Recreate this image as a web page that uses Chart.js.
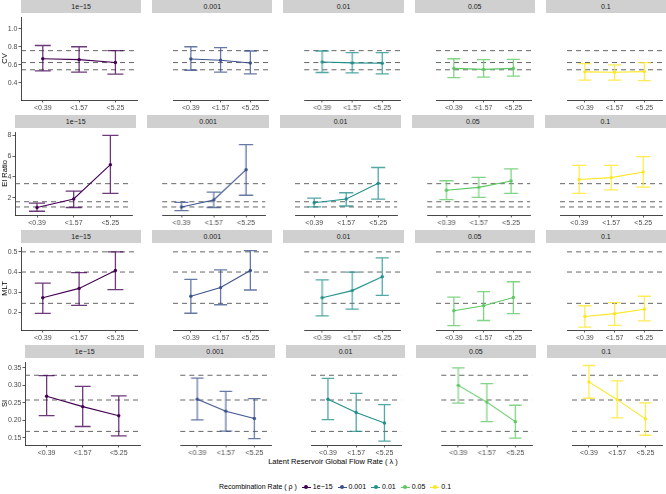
<!DOCTYPE html>
<html lang="en">
<head>
<meta charset="UTF-8">
<script src="https://cdn.jsdelivr.net/npm/chart.js"></script>
<title>Recombination rate facets</title>
<style>
  body { margin: 0; background: #fff; font-family: "Liberation Sans", Arial, sans-serif; }
  #wrap { position: relative; width: 666px; height: 494px; overflow: hidden; }
  .strip { position: absolute; background: #d0d0d0; color: #1a1a1a; font-size: 7px; text-align: center; line-height: 13px; }
  .box { position: absolute; }
  #xtitle { position: absolute; left: 0; width: 666px; top: 457px; text-align: center; font-size: 7.5px; color: #000; padding-left: 0; }
  #legend { position: absolute; left: 0; width: 670px; top: 483px; text-align: center; font-size: 7px; color: #000; white-space: nowrap; }
  .key { display: inline-block; position: relative; width: 9px; height: 7px; vertical-align: middle; margin: 0 2px 0 5px; }
  .key:before { content: ""; position: absolute; left: 0; right: 0; top: 3px; height: 1px; background: var(--c); }
  .key:after { content: ""; position: absolute; left: 2.5px; top: 1.5px; width: 4px; height: 4px; border-radius: 50%; background: var(--c); }
</style>
</head>
<body>
<div id="wrap">
  <div id="xtitle">Latent Reservoir Global Flow Rate ( λ )</div>
  <div id="legend"></div>
</div>
<script>
const categories = ['<0.39', '<1.57', '<5.25'];
const rates = ['1e\u221215', '0.001', '0.01', '0.05', '0.1'];
const rateColors = ['#440154', '#3B528B', '#21908C', '#5DC863', '#FDE725'];
const metrics = ['CV', 'EI Ratio', 'MLT', 'SI'];

// one inner array per recombination rate, values per flow-rate category
const cvMean = [[0.667, 0.657, 0.625], [0.664, 0.65, 0.62], [0.632, 0.621, 0.618], [0.56, 0.55, 0.56], [0.522, 0.518, 0.525]];
const cvLow = [[0.533, 0.52, 0.496], [0.54, 0.52, 0.50], [0.515, 0.51, 0.50], [0.457, 0.464, 0.475], [0.43, 0.43, 0.425]];
const cvHigh = [[0.814, 0.80, 0.757], [0.80, 0.79, 0.753], [0.753, 0.736, 0.736], [0.667, 0.657, 0.66], [0.614, 0.60, 0.625]];
const cvRef = [0.757, 0.625, 0.545];

const eiMean = [[1.07, 1.88, 5.17], [1.12, 1.79, 4.69], [1.52, 1.88, 3.38], [2.72, 3.0, 3.6], [3.75, 3.93, 4.47]];
const eiLow = [[0.71, 1.07, 2.43], [0.76, 1.07, 2.24], [1.12, 1.21, 1.88], [1.82, 2.03, 2.43], [2.43, 2.75, 3.02]];
const eiHigh = [[1.48, 2.63, 7.97], [1.55, 2.54, 7.1], [1.97, 2.48, 4.9], [3.63, 3.96, 4.76], [5.1, 5.1, 5.95]];
const eiRef = [3.35, 1.62, 1.12];

const mltMean = [[0.273, 0.319, 0.408], [0.28, 0.323, 0.408], [0.273, 0.308, 0.377], [0.208, 0.233, 0.274], [0.18, 0.194, 0.216]];
const mltLow = [[0.195, 0.235, 0.313], [0.196, 0.238, 0.311], [0.183, 0.216, 0.284], [0.135, 0.16, 0.194], [0.127, 0.136, 0.158]];
const mltHigh = [[0.345, 0.397, 0.50], [0.364, 0.411, 0.506], [0.361, 0.40, 0.47], [0.276, 0.303, 0.352], [0.233, 0.249, 0.28]];
const mltRef = [0.50, 0.40, 0.245];

const siMean = [[0.269, 0.239, 0.213], [0.26, 0.226, 0.205], [0.26, 0.222, 0.192], [0.30, 0.252, 0.196], [0.31, 0.259, 0.204]];
const siLow = [[0.213, 0.182, 0.155], [0.201, 0.169, 0.147], [0.202, 0.168, 0.14], [0.249, 0.196, 0.149], [0.263, 0.207, 0.157]];
const siHigh = [[0.328, 0.297, 0.27], [0.321, 0.283, 0.262], [0.32, 0.277, 0.245], [0.35, 0.305, 0.243], [0.357, 0.313, 0.25]];
const siRef = [0.329, 0.258, 0.168];

const cvTicks = [0.4, 0.6, 0.8, 1.0];
const eiTicks = [2, 4, 6, 8];
const mltTicks = [0.2, 0.3, 0.4, 0.5];
const siTicks = [0.15, 0.20, 0.25, 0.30, 0.35];

const rows = [
  { mean: cvMean, low: cvLow, high: cvHigh, ref: cvRef, ticks: cvTicks, dec: 1, min: 0.21, max: 1.13 },
  { mean: eiMean, low: eiLow, high: eiHigh, ref: eiRef, ticks: eiTicks, dec: 0, min: 0.35, max: 8.3 },
  { mean: mltMean, low: mltLow, high: mltHigh, ref: mltRef, ticks: mltTicks, dec: 1, min: 0.113, max: 0.524 },
  { mean: siMean, low: siLow, high: siHigh, ref: siRef, ticks: siTicks, dec: 2, min: 0.129, max: 0.367 }
];

// layout
const rowTop = [0, 115, 230, 345];
const plotLeft = [21, 15, 21, 25];
const stripH = 13, plotH = 87, xAxisH = 16, gap = 11, rightEdge = 666;
const capW = 0.22;
const fam = '"Liberation Sans", Arial, sans-serif';

Chart.defaults.font.family = fam;
Chart.defaults.animation = false;

function alpha(hex, a) {
  const n = parseInt(hex.slice(1), 16);
  return `rgba(${n >> 16},${(n >> 8) & 255},${n & 255},${a})`;
}

function makePanel(r, c) {
  const row = rows[r];
  const color = rateColors[c];
  const wrap = document.getElementById('wrap');
  const pw = (rightEdge - plotLeft[r] - 4 * gap) / 5;
  const x0 = plotLeft[r] + c * (pw + gap);

  const strip = document.createElement('div');
  strip.className = 'strip';
  strip.style.left = x0 + 'px';
  strip.style.top = rowTop[r] + 'px';
  strip.style.width = pw + 'px';
  strip.style.height = stripH + 'px';
  strip.textContent = rates[c];
  wrap.appendChild(strip);

  const box = document.createElement('div');
  box.className = 'box';
  box.style.left = (c === 0 ? 0 : x0) + 'px';
  box.style.top = (rowTop[r] + stripH) + 'px';
  box.style.width = (c === 0 ? x0 + pw : pw) + 'px';
  box.style.height = (plotH + xAxisH) + 'px';
  const canvas = document.createElement('canvas');
  box.appendChild(canvas);
  wrap.appendChild(box);

  const datasets = [];
  datasets.push({
    data: categories.map((_, i) => ({ x: i, y: row.mean[c][i] })),
    borderColor: color, backgroundColor: color, borderWidth: 1.1,
    pointRadius: 1.7, pointBorderWidth: 0
  });
  const bars = [];
  categories.forEach((_, i) => {
    const lo = row.low[c][i], hi = row.high[c][i];
    bars.push({ x: i, y: lo }, { x: i, y: hi }, { x: i, y: null },
      { x: i - capW, y: hi }, { x: i + capW, y: hi }, { x: i, y: null },
      { x: i - capW, y: lo }, { x: i + capW, y: lo }, { x: i, y: null });
  });
  datasets.push({ data: bars, borderColor: alpha(color, 0.78), borderWidth: 1.3, pointRadius: 0 });
  row.ref.forEach(v => {
    datasets.push({
      data: [{ x: -0.6, y: v }, { x: 2.6, y: v }],
      borderColor: '#555', borderWidth: 0.9, borderDash: [5, 4], pointRadius: 0
    });
  });

  new Chart(canvas, {
    type: 'line',
    data: { datasets },
    options: {
      responsive: true, maintainAspectRatio: false, events: [],
      layout: { padding: 0 },
      plugins: { legend: { display: false }, tooltip: { enabled: false } },
      scales: {
        x: {
          type: 'linear', min: -0.6, max: 2.6,
          afterBuildTicks: s => { s.ticks = categories.map((_, i) => ({ value: i })); },
          afterFit: s => { s.height = xAxisH; s.paddingLeft = 0; s.paddingRight = 0; },
          ticks: { callback: v => categories[v], font: { size: 7 }, color: '#4d4d4d', padding: 1, maxRotation: 0, autoSkip: false },
          grid: { drawOnChartArea: false, tickLength: 2.5, color: '#333', lineWidth: 0.8 },
          border: { color: '#333', width: 0.9 }
        },
        y: {
          display: c === 0,
          min: row.min, max: row.max,
          afterBuildTicks: s => { s.ticks = row.ticks.map(v => ({ value: v })); },
          afterFit: s => { s.width = plotLeft[r]; s.paddingTop = 0; s.paddingBottom = 0; },
          ticks: { callback: v => v.toFixed(row.dec), font: { size: 7 }, color: '#4d4d4d', padding: 1 },
          grid: { drawOnChartArea: false, tickLength: 2.5, color: '#333', lineWidth: 0.8 },
          border: { color: '#333', width: 0.9 },
          title: { display: true, text: metrics[r], font: { size: 7.5 }, color: '#000', padding: 0 }
        }
      }
    }
  });
}

for (let r = 0; r < rows.length; r++) {
  for (let c = 0; c < rates.length; c++) makePanel(r, c);
}

const legend = document.getElementById('legend');
legend.innerHTML = 'Recombination Rate ( ρ )' + rates.map((name, i) =>
  `<span class="key" style="--c:${rateColors[i]}"></span>${name}`).join('');
</script>
</body>
</html>
